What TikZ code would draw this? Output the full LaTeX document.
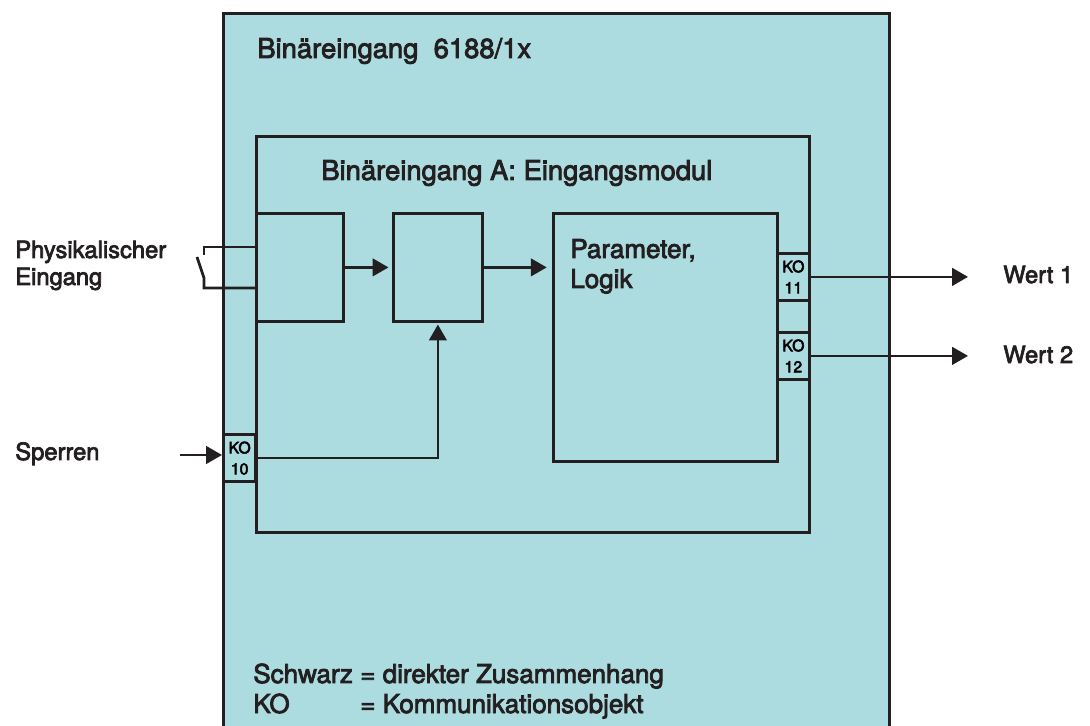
\documentclass[tikz,border=0pt]{standalone}
\usepackage{fontspec}
\setmainfont{TeX Gyre Heros}[FakeBold=3]
\usetikzlibrary{arrows.meta,positioning}
\definecolor{geraetfill}{HTML}{ACDCE0}
\definecolor{linedark}{HTML}{231F20}

\begin{document}
\begin{tikzpicture}[
  x=0.02cm, y=-0.02cm,
  font=\fontsize{13.5}{15.3}\selectfont,
  frame/.style={draw=linedark, line width=1.6pt, inner sep=0pt, anchor=north west},
  block/.style={frame, fill=geraetfill},
  kobox/.style={frame, fill=geraetfill, minimum width=0.65cm, minimum height=0.95cm, align=center, font=\fontsize{9}{12}\selectfont},
  arrow/.style={-{Triangle[length=9pt,width=10pt]}, line width=1.3pt, draw=linedark},
  wire/.style={line width=1.6pt, draw=linedark},
  label/.style={anchor=base west, inner sep=0pt, text=linedark},
  heading/.style={label, font=\fontsize{15.6}{18}\selectfont},
  legend/.style={label, font=\fontsize{14.8}{17}\selectfont}
]
\useasboundingbox (0,0) rectangle (1090,726);
% Geraet und Modul
\node[block, minimum width=13.32cm, minimum height=14.7cm] (geraet) at (222,12) {};
\node[heading] (titel) at (257,58) {Binäreingang\ \ 6188/1x};
\node[frame, minimum width=11.06cm, minimum height=7.92cm] (modul) at (255,135) {};
\node[heading] (modultitel) at (321,180) {Binäreingang A: Eingangsmodul};

% Bloecke
\node[frame, minimum width=1.74cm, minimum height=2.16cm] (eingang) at (255,212) {};
\node[frame, minimum width=1.78cm, minimum height=2.16cm] (sperre) at (392,212) {};
\node[frame, minimum width=4.48cm, minimum height=4.96cm] (logik) at (552,212) {};
\node[legend] (logiktext) at (570,258) {Parameter,};
\node[legend] (logiktext2) at (570,288) {Logik};

% Kommunikationsobjekte
\node[kobox] (ko10) at (222,433) {KO\\10};
\node[kobox, minimum width=0.64cm, minimum height=0.94cm] (ko11) at (776,252) {KO\\11};
\node[kobox, minimum width=0.64cm, minimum height=0.94cm] (ko12) at (776,331) {KO\\12};

% Kontakt
\coordinate (kontaktoben) at (204,247);
\coordinate (kontaktunten) at (204,288);
\draw[wire] (eingang.west |- kontaktoben) -- (kontaktoben) -- ++(0,8);
\draw[wire] (eingang.west |- kontaktunten) -- (kontaktunten) -- ++(0,-10) -- ++(-7,-21);
\node[label] (physik) at (15,258) {Physikalischer};
\node[label] (physik2) at (15,285) {Eingang};

% Verbindungen
\draw[arrow] (eingang.east) -- ([xshift=-2pt]sperre.west);
\draw[arrow] (sperre.east) -- ([xshift=-3pt]sperre.east -| logik.west);
\draw[arrow] (ko10.east) -| ([yshift=-1pt]sperre.south);
\coordinate (sperrenein) at (180,455);
\node[label] (sperren) at (15,460) {Sperren};
\draw[arrow] (sperrenein) -- (sperrenein -| ko10.west);
\coordinate (wert1ende) at (968,275);
\coordinate (wert2ende) at (968,355);
\draw[arrow] (ko11.east) -- (wert1ende |- ko11.east);
\draw[arrow] (ko12.east) -- (wert2ende |- ko12.east);
\node[label] (wert1) at (1003,283) {Wert 1};
\node[label] (wert2) at (1003,363) {Wert 2};

% Legende
\node[legend] (legende1) at (253,683) {Schwarz};
\node[legend] (legende1b) at (360,683) {= direkter Zusammenhang};
\node[legend] (legende2) at (253,713) {KO};
\node[legend] (legende2b) at (360,713) {= Kommunikationsobjekt};
\end{tikzpicture}
\end{document}
